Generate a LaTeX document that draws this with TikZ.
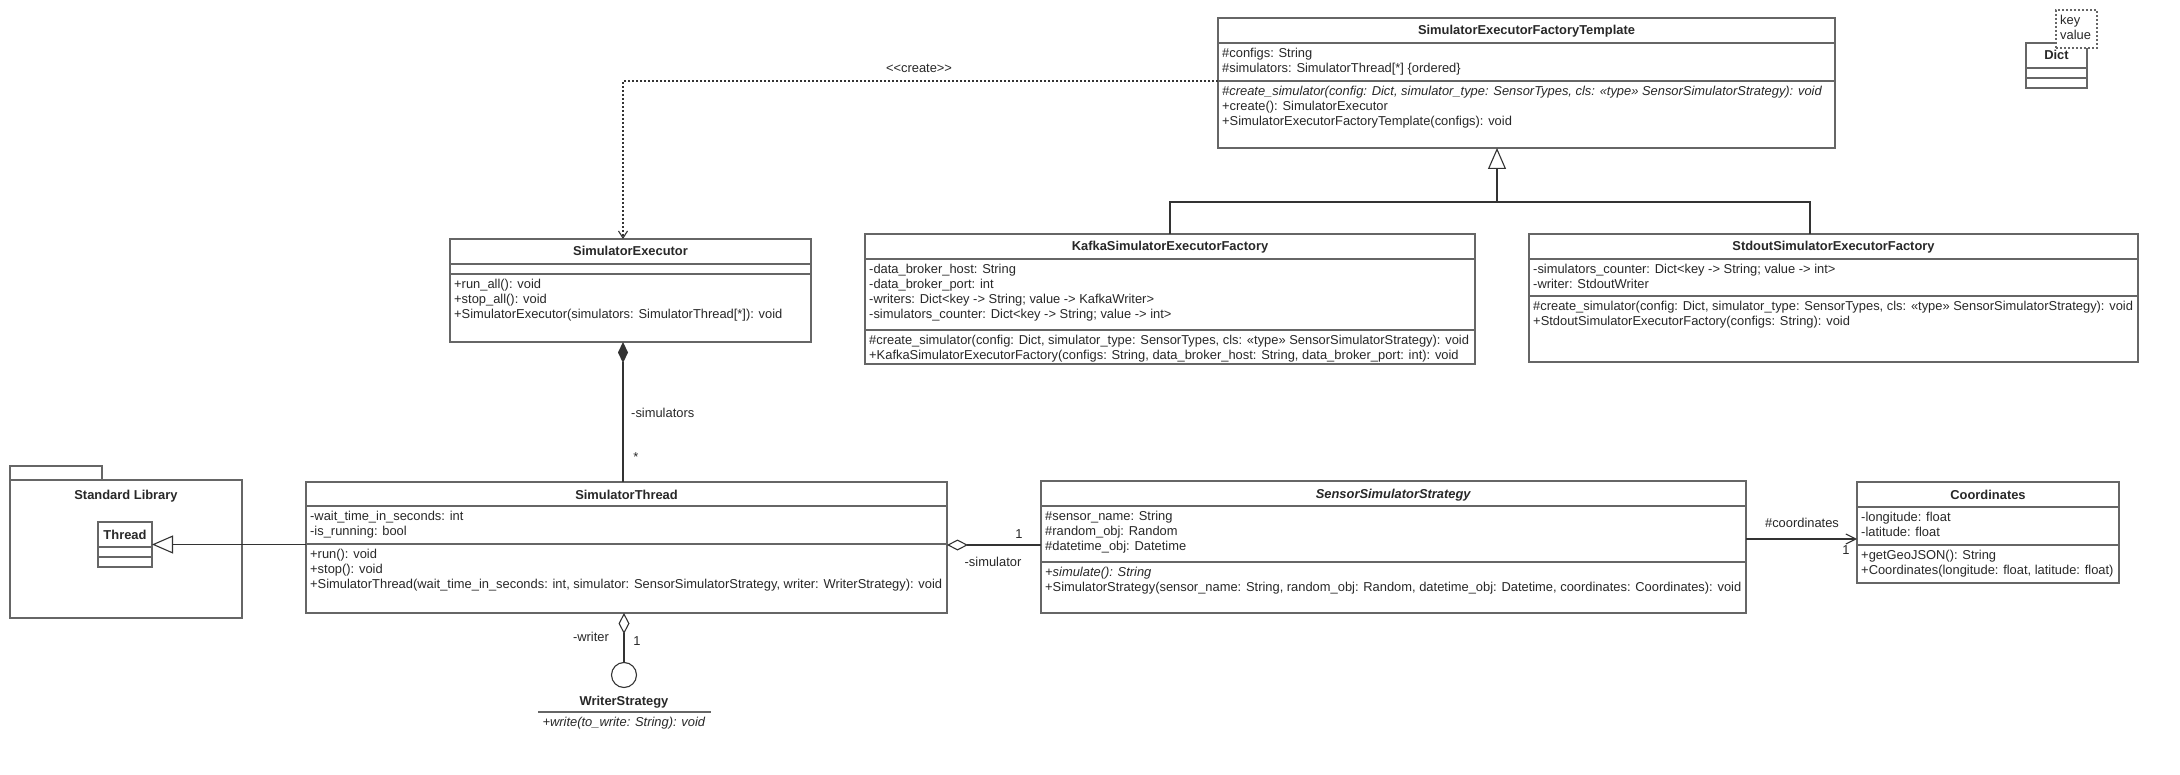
\documentclass[tikz,border=0pt]{standalone}
\usepackage{fontspec}
\setmainfont{Liberation Sans}
\usepackage{tikz}
\usetikzlibrary{positioning}
\usetikzlibrary{arrows.meta,shapes}
\usetikzlibrary{calc}
\definecolor{boxgray}{RGB}{102,102,102}
\definecolor{umltext}{RGB}{40,40,40}
\tikzstyle{classbox}=[rectangle,draw=boxgray,line width=1.4pt,outer sep=0pt,inner sep=0pt,anchor=north west]
\tikzstyle{paramsbox}=[rectangle,draw=boxgray,fill=white,line width=1.2pt,dash pattern=on 2pt off 2pt,outer sep=0pt,inner sep=0pt,anchor=north west]
\tikzstyle{classtitle}=[font=\fontsize{12.9}{15}\selectfont\bfseries,text=umltext,inner sep=0pt,anchor=base]
\tikzstyle{members}=[font=\fontsize{12.9}{15}\selectfont,text=umltext,align=left,inner sep=0pt,anchor=north west,execute at begin node=\strut]
\tikzstyle{sepline}=[draw=boxgray,line width=1.4pt]
\tikzstyle{conn}=[draw=black!80,line width=1.1pt]
\tikzstyle{rolename}=[font=\fontsize{12.9}{15}\selectfont,text=umltext,inner sep=0pt]

\begin{document}
\begin{tikzpicture}[x=1pt,y=-1pt]

    \fill[white] (0,0) rectangle (2180,775);
    \useasboundingbox (0,0) rectangle (2180,775);

    % First we draw the class boxes
    \foreach \pos/\name/\w/\h in {{(1218,18)/seft/617/130}, {(2026,43)/dict/61/45}, {(865,234)/kafka/610/130}, {(1529,234)/stdout/609/128}, {(450,239)/se/361/103}, {(306,482)/st/641/131}, {(1041,481)/sss/705/132}, {(1857,482)/coords/262/101}, {(98,522)/thread/54/45}, {(10,466)/pkgtab/92/14}, {(10,480)/pkg/232/138}}
        \node[classbox, minimum width=\w pt, minimum height=\h pt] (\name) at \pos {};

    % Class names in the header
    \foreach \name/\title in {seft/SimulatorExecutorFactoryTemplate, dict/Dict, kafka/KafkaSimulatorExecutorFactory, stdout/StdoutSimulatorExecutorFactory, se/SimulatorExecutor, st/SimulatorThread, sss/{\textit{SensorSimulatorStrategy}}, coords/Coordinates, thread/Thread}
        \node[classtitle] (\name-title) at ($(\name.north)+(0,17)$) {\title};
    \node[classtitle] (pkg-title) at ($(pkg.north)+(0,19)$) {Standard Library};

    % Compartment lines
    \foreach \name/\dy in {seft/25, seft/63, dict/25, dict/35, kafka/25, kafka/96, stdout/25, stdout/62, se/25, se/35, st/24, st/62, sss/25, sss/81, coords/25, coords/63, thread/25, thread/35}
        \draw[sepline] ($(\name.north west)+(0,\dy)$) -- ($(\name.north east)+(0,\dy)$);

    % Template parameters of Dict
    \node[paramsbox, minimum width=41pt, minimum height=38pt] (dictparam) at (2056,10) {};
    \node[members] (dictkeys) at (2060,14.5) {key\\value};

    % Attributes and operations
    \node[members] (seft-attr) at ($(seft.north west)+(4,30)$) {\#configs: String\\\#simulators: SimulatorThread[*] \{ordered\}};
    \node[members] (seft-ops) at ($(seft.north west)+(4,68)$) {\textit{\#create\_simulator(config: Dict, simulator\_type: SensorTypes, cls: «type» SensorSimulatorStrategy): void}\\+create(): SimulatorExecutor\\+SimulatorExecutorFactoryTemplate(configs): void};

    \node[members] (kafka-attr) at ($(kafka.north west)+(4,30)$) {-data\_broker\_host: String\\-data\_broker\_port: int\\-writers: Dict<key -> String; value -> KafkaWriter>\\-simulators\_counter: Dict<key -> String; value -> int>};
    \node[members] (kafka-ops) at ($(kafka.north west)+(4,101)$) {\#create\_simulator(config: Dict, simulator\_type: SensorTypes, cls: «type» SensorSimulatorStrategy): void\\+KafkaSimulatorExecutorFactory(configs: String, data\_broker\_host: String, data\_broker\_port: int): void};

    \node[members] (stdout-attr) at ($(stdout.north west)+(4,30)$) {-simulators\_counter: Dict<key -> String; value -> int>\\-writer: StdoutWriter};
    \node[members] (stdout-ops) at ($(stdout.north west)+(4,67)$) {\#create\_simulator(config: Dict, simulator\_type: SensorTypes, cls: «type» SensorSimulatorStrategy): void\\+StdoutSimulatorExecutorFactory(configs: String): void};

    \node[members] (se-ops) at ($(se.north west)+(4,40)$) {+run\_all(): void\\+stop\_all(): void\\+SimulatorExecutor(simulators: SimulatorThread[*]): void};

    \node[members] (st-attr) at ($(st.north west)+(4,29)$) {-wait\_time\_in\_seconds: int\\-is\_running: bool};
    \node[members] (st-ops) at ($(st.north west)+(4,67)$) {+run(): void\\+stop(): void\\+SimulatorThread(wait\_time\_in\_seconds: int, simulator: SensorSimulatorStrategy, writer: WriterStrategy): void};

    \node[members] (sss-attr) at ($(sss.north west)+(4,30)$) {\#sensor\_name: String\\\#random\_obj: Random\\\#datetime\_obj: Datetime};
    \node[members] (sss-ops) at ($(sss.north west)+(4,86)$) {\textit{+simulate(): String}\\+SimulatorStrategy(sensor\_name: String, random\_obj: Random, datetime\_obj: Datetime, coordinates: Coordinates): void};

    \node[members] (coords-attr) at ($(coords.north west)+(4,30)$) {-longitude: float\\-latitude: float};
    \node[members] (coords-ops) at ($(coords.north west)+(4,68)$) {+getGeoJSON(): String\\+Coordinates(longitude: float, latitude: float)};

    % Interface WriterStrategy as lollipop
    \node[circle, draw=black!80, line width=1.1pt, minimum size=25pt, inner sep=0pt] (wscircle) at (624,675) {};
    \node[classtitle] (ws-title) at (624,705) {WriterStrategy};
    \draw[sepline] (538,712) -- (711,712);
    \node[rolename] (ws-op) at (624,723) {\textit{+write(to\_write: String): void}};

    % Connect the classes
    \coordinate (seport) at ($(se.north)+(-7.5,0)$);
    \coordinate (composeport) at ($(se.south)+(-7.5,0)$);
    \coordinate (genjoin) at (1497,202);

    \draw[conn, dash pattern=on 2pt off 2pt, -{Straight Barb[length=7pt,width=9pt]}] ($(seft.north west)+(0,63)$) -| (seport);
    \node[rolename] (create-lbl) at (919,68) {<\kern0pt<create>\kern0pt>};

    \draw[conn] (kafka.north) |- (genjoin) -| ($(stdout.north)+(-23.5,0)$);
    \draw[conn, -{Triangle[open,length=21pt,width=18pt]}] (genjoin) -- (genjoin |- seft.south);

    \draw[conn, {Diamond[length=21pt,width=10pt]}-] (composeport) -- (composeport |- st.north);
    \node[rolename, anchor=west] (simulators-lbl) at (631,413) {-simulators};
    \node[rolename] (simulators-mult) at (636,457) {*};

    \draw[conn, -{Triangle[open,length=21pt,width=18pt]}] (st.west |- thread.east) -- (thread.east);

    \draw[conn, {Diamond[open,length=21pt,width=11pt]}-] ($(st.north east)+(0,63)$) -- ($(sss.north west)+(0,64)$);
    \node[rolename] (simulator-mult) at (1019,534) {1};
    \node[rolename] (simulator-lbl) at (993,562) {-simulator};

    \draw[conn, -{Straight Barb[length=10pt,width=10pt]}] ($(sss.north east)+(0,58)$) -- ($(coords.north west)+(0,57)$);
    \node[rolename] (coordinates-lbl) at (1802,523) {\#coordinates};
    \node[rolename] (coordinates-mult) at (1846,550) {1};

    \draw[conn, {Diamond[open,length=21pt,width=11pt]}-] (wscircle |- st.south) -- (wscircle.north);
    \node[rolename] (writer-lbl) at (591,637) {-writer};
    \node[rolename] (writer-mult) at (637,641) {1};

\end{tikzpicture}
\end{document}
